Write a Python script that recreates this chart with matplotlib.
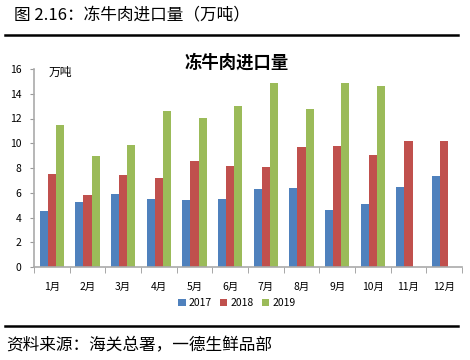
import numpy as np
import matplotlib.pyplot as plt
from matplotlib.lines import Line2D

plt.rcParams['font.family'] = ['Noto Sans CJK SC', 'DejaVu Sans']

months = ['1月', '2月', '3月', '4月', '5月', '6月', '7月', '8月', '9月', '10月', '11月', '12月']
v2017 = [4.55, 5.25, 5.9, 5.5, 5.4, 5.5, 6.3, 6.4, 4.6, 5.1, 6.45, 7.35]
v2018 = [7.55, 5.8, 7.4, 7.2, 8.6, 8.2, 8.1, 9.7, 9.75, 9.05, 10.2, 10.2]
v2019 = [11.5, 9.0, 9.85, 12.6, 12.05, 13.0, 14.85, 12.75, 14.85, 14.6, np.nan, np.nan]
years = ['2017', '2018', '2019']
colors = ['#4F81BD', '#C0504D', '#9BBB59']

fig = plt.figure(figsize=(4.7, 3.6), dpi=100)
ax = fig.add_axes([34/470, 1-267/360, 428/470, 198/360])

x = np.arange(len(months))
w = 0.225
for i, (vals, c, lab) in enumerate(zip([v2017, v2018, v2019], colors, years)):
    ax.bar(x + (i-1)*w, vals, width=w, color=c, label=lab)

ax.set_xlim(-0.5, 11.5)
ax.set_ylim(0, 16)
ax.set_yticks(range(0, 17, 2))
ax.set_xticks(x)
ax.set_xticklabels(months, fontsize=7.5)
ax.set_xticks(np.arange(-0.5, 12, 1), minor=True)
ax.tick_params(axis='x', which='major', length=0, pad=11)
ax.tick_params(axis='x', which='minor', length=4, color='#999999')
ax.tick_params(axis='y', labelsize=7.5, length=3, color='#999999', pad=6)
for s in ['top', 'right']:
    ax.spines[s].set_visible(False)
for s in ['left', 'bottom']:
    ax.spines[s].set_color('#aaaaaa')
    ax.spines[s].set_linewidth(1.2)

ax.text(0.035, 0.985, '万吨', transform=ax.transAxes, fontsize=8.5, va='center')
fig.text(237/470, 1-63/360, '冻牛肉进口量', fontsize=12.5, fontweight='bold',
         ha='center', va='center')

fig.legend(loc='center', bbox_to_anchor=(237/470, 1-303/360), ncol=3, frameon=False,
           fontsize=7.5, handlelength=0.7, handleheight=0.7, handletextpad=0.3,
           columnspacing=0.8)

fig.text(14/470, 1-15/360, '图 2.16：冻牛肉进口量（万吨）', fontsize=12, va='center')
fig.add_artist(Line2D([5/470, 458/470], [1-35/360]*2, color='black', lw=1.8))
fig.add_artist(Line2D([5/470, 458/470], [1-326/360]*2, color='black', lw=1.8))
fig.text(6/470, 1-346/360, '资料来源：海关总署，一德生鲜品部', fontsize=12, va='center')

fig.savefig('out.png', dpi=100)
